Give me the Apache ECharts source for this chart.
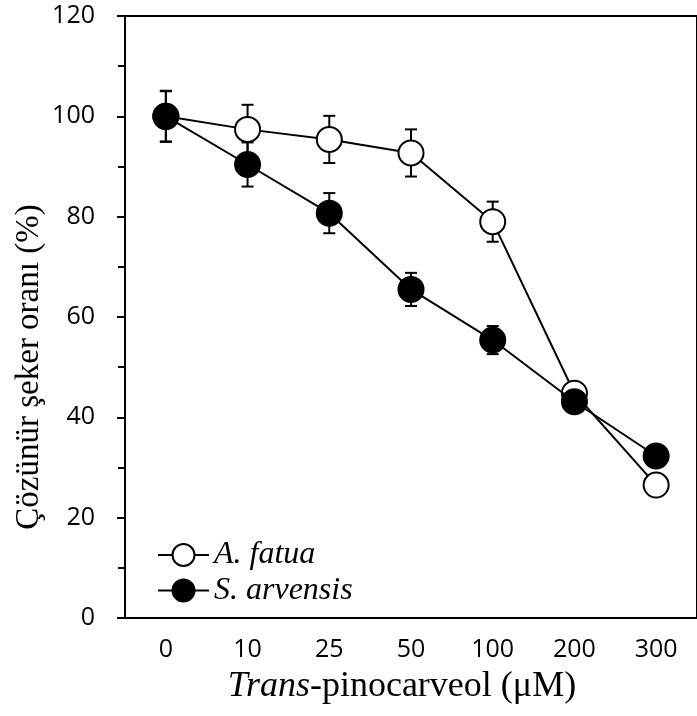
<!DOCTYPE html>
<html><head><meta charset="utf-8">
<script src="https://cdn.jsdelivr.net/npm/echarts@6/dist/echarts.min.js"></script>
<style>html,body{margin:0;padding:0;background:#fff}#c{width:697px;height:716px}</style>
</head><body><div id="c"></div>
<script>
const categories = ['0', '10', '25', '50', '100', '200', '300'];
const fatuaMean = [100, 97.4, 95.4, 92.7, 79.0, 44.8, 26.5];
const fatuaErr = [5.0, 4.9, 4.7, 4.7, 4.0, 2.0, 1.5];
const arvensisMean = [100, 90.4, 80.7, 65.5, 55.4, 43.1, 32.3];
const arvensisErr = [5.1, 4.4, 4.0, 3.3, 2.8, 1.5, 1.5];
const seriesNames = ['A. fatua', 'S. arvensis'];
const yMin = 0, yMax = 120, yStep = 20;

function errRender(params, api) {
  const i = api.value(0);
  const lo = api.coord([i, api.value(1)]);
  const hi = api.coord([i, api.value(2)]);
  const w = 6;
  const st = { stroke: '#000', lineWidth: 2 };
  return {
    type: 'group', children: [
      { type: 'line', shape: { x1: lo[0], y1: lo[1], x2: hi[0], y2: hi[1] }, style: st },
      { type: 'line', shape: { x1: hi[0] - w, y1: hi[1], x2: hi[0] + w, y2: hi[1] }, style: st },
      { type: 'line', shape: { x1: lo[0] - w, y1: lo[1], x2: lo[0] + w, y2: lo[1] }, style: st }
    ]
  };
}
const errData = (m, e) => m.map((v, i) => [i, v - e[i], v + e[i]]);

const chart = echarts.init(document.getElementById('c'), null, { renderer: 'canvas' });
chart.setOption({
  animation: false,
  backgroundColor: '#fff',
  grid: { left: 125, top: 16, width: 582.4, bottom: 98, show: true, borderColor: '#000', borderWidth: 2, backgroundColor: 'transparent' },
  xAxis: {
    type: 'category', data: categories, boundaryGap: true,
    axisLine: { lineStyle: { color: '#000', width: 2 } },
    axisTick: { alignWithLabel: true, length: 7, lineStyle: { color: '#000', width: 2 } },
    axisLabel: { color: '#000', fontFamily: 'Open Sans', fontSize: 25, margin: 19 },
    splitLine: { show: false }
  },
  yAxis: {
    type: 'value', min: yMin, max: yMax, interval: yStep,
    axisLine: { show: true, lineStyle: { color: '#000', width: 2 } },
    axisTick: { show: true, length: 8, lineStyle: { color: '#000', width: 2 } },
    minorTick: { show: true, splitNumber: 2, length: 7, lineStyle: { color: '#000', width: 2 } },
    axisLabel: { color: '#000', fontFamily: 'Open Sans', fontSize: 25, margin: 30 },
    splitLine: { show: false }
  },
  legend: {
    data: seriesNames, orient: 'vertical', left: 157, top: 539, padding: 0,
    itemWidth: 51, itemHeight: 27.5, itemGap: 3.5, selectedMode: false,
    textStyle: { fontFamily: 'Liberation Serif', fontStyle: 'italic', fontSize: 32, color: '#000' }
  },
  graphic: [
    { type: 'text', x: 29, y: 367, rotation: Math.PI / 2,
      style: { text: 'Çözünür şeker oranı (%)', fontFamily: 'Liberation Serif', fontSize: 33, fill: '#000', align: 'center', verticalAlign: 'middle' } },
    { type: 'text', x: 402, y: 687,
      style: { text: '{i|Trans}{n|-pinocarveol (μM)}', align: 'center', verticalAlign: 'middle', fill: '#000',
        rich: { i: { fontStyle: 'italic', fontFamily: 'Liberation Serif', fontSize: 36, color: '#000' },
                n: { fontFamily: 'Liberation Serif', fontSize: 36, color: '#000' } } } }
  ],
  series: [
    { type: 'custom', name: 'errA', renderItem: errRender, data: errData(fatuaMean, fatuaErr), encode: { x: 0, y: [1, 2] }, z: 1, silent: true },
    { type: 'custom', name: 'errS', renderItem: errRender, data: errData(arvensisMean, arvensisErr), encode: { x: 0, y: [1, 2] }, z: 1, silent: true },
    { type: 'line', name: seriesNames[0], data: fatuaMean, symbol: 'circle', symbolSize: 25, z: 2,
      itemStyle: { color: '#fff', borderColor: '#000', borderWidth: 2 },
      lineStyle: { color: '#000', width: 2 }, emphasis: { disabled: true } },
    { type: 'line', name: seriesNames[1], data: arvensisMean, symbol: 'circle', symbolSize: 25, z: 3,
      itemStyle: { color: '#000', borderColor: '#000', borderWidth: 2 },
      lineStyle: { color: '#000', width: 2 }, emphasis: { disabled: true } }
  ]
});
</script></body></html>
